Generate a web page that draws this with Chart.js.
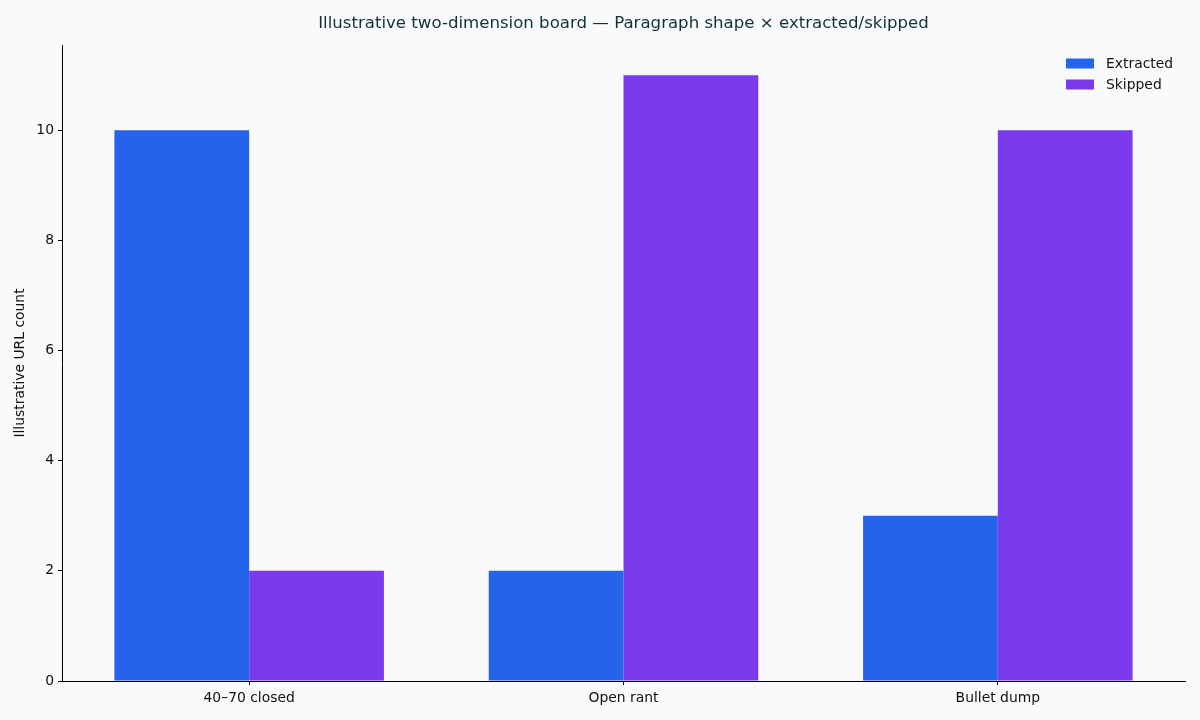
<!DOCTYPE html>
<html>
<head>
<meta charset="utf-8">
<script src="https://cdn.jsdelivr.net/npm/chart.js@4.4.0/dist/chart.umd.min.js"></script>
<style>
  html, body { margin: 0; padding: 0; background: #f8fafc; }
  #wrap { width: 1200px; height: 720px; }
</style>
</head>
<body>
<div id="wrap"><canvas id="c" width="1200" height="720"></canvas></div>
<script>
const categories = ["40\u201370 closed", "Open rant", "Bullet dump"];
const extracted = [10, 2, 3];
const skipped = [2, 11, 10];
const seriesNames = ["Extracted", "Skipped"];
const seriesColors = ["#2563eb", "#7c3aed"];
const yTicks = [0, 2, 4, 6, 8, 10];
const titleText = "Illustrative two-dimension board \u2014 Paragraph shape \u00d7 extracted/skipped";
const yTitle = "Illustrative URL count";

const FONT = "'DejaVu Sans', sans-serif";

const bgPlugin = {
  id: 'bg',
  beforeDraw(chart) {
    const ctx = chart.ctx;
    ctx.save();
    ctx.fillStyle = '#f8fafc';
    ctx.fillRect(0, 0, chart.width, chart.height);
    ctx.restore();
  }
};

const titlePlugin = {
  id: 'axesTitle',
  afterDraw(chart) {
    const ctx = chart.ctx;
    const area = chart.chartArea;
    ctx.save();
    ctx.font = "16.6px " + FONT;
    ctx.fillStyle = '#12332e';
    ctx.textAlign = 'center';
    ctx.textBaseline = 'middle';
    ctx.fillText(titleText, (area.left + area.right) / 2, area.top - 21);
    ctx.restore();
  }
};

const legendPlugin = {
  id: 'customLegend',
  afterDraw(chart) {
    const ctx = chart.ctx;
    const area = chart.chartArea;
    ctx.save();
    ctx.font = "13.9px " + FONT;
    ctx.textBaseline = 'middle';
    ctx.textAlign = 'left';
    const x0 = area.right - 119;
    let y = area.top + 18.5;
    chart.data.datasets.forEach((ds) => {
      ctx.fillStyle = ds.backgroundColor;
      ctx.fillRect(x0, y - 5, 28, 10);
      ctx.fillStyle = '#111111';
      ctx.fillText(ds.label, x0 + 40, y + 0.5);
      y += 21;
    });
    ctx.restore();
  }
};

new Chart(document.getElementById('c'), {
  type: 'bar',
  data: {
    labels: categories,
    datasets: [
      { label: seriesNames[0], data: extracted, backgroundColor: seriesColors[0], borderWidth: 0 },
      { label: seriesNames[1], data: skipped, backgroundColor: seriesColors[1], borderWidth: 0 }
    ]
  },
  options: {
    responsive: false,
    animation: false,
    devicePixelRatio: 1,
    categoryPercentage: 0.72,
    barPercentage: 1.0,
    layout: { padding: { left: 0, right: 15, top: 45, bottom: 0 } },
    plugins: {
      legend: { display: false },
      tooltip: { enabled: false },
      title: { display: false }
    },
    scales: {
      x: {
        grid: { offset: false, drawOnChartArea: false, drawTicks: true, tickLength: 4, tickWidth: 1, color: '#000000', tickColor: '#000000' },
        border: { display: true, color: '#000000', width: 1 },
        ticks: { color: '#111111', padding: 5, font: { family: FONT, size: 13.9 }, maxRotation: 0 },
        afterFit(scale) { scale.height = 39; }
      },
      y: {
        min: 0,
        max: 11.55,
        afterBuildTicks(scale) { scale.ticks = yTicks.map(v => ({ value: v })); },
        grid: { drawOnChartArea: false, drawTicks: true, tickLength: 4, color: '#000000', tickColor: '#000000' },
        border: { display: true, color: '#000000', width: 1 },
        ticks: { color: '#111111', padding: 4, font: { family: FONT, size: 13.9 } },
        title: {
          display: true,
          text: yTitle,
          color: '#111111',
          font: { family: FONT, size: 13.9 },
          padding: { top: 12, bottom: 0 }
        },
        afterFit(scale) { scale.width = 62; }
      }
    }
  },
  plugins: [bgPlugin, titlePlugin, legendPlugin]
});
</script>
</body>
</html>
